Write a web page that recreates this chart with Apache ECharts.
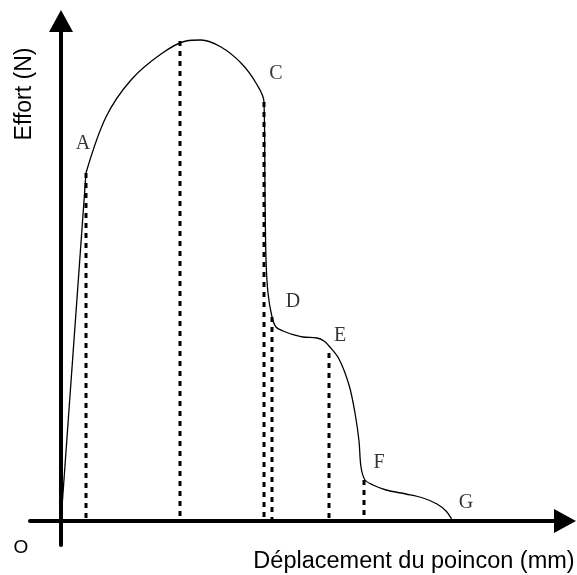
<!DOCTYPE html>
<html><head><meta charset="utf-8">
<script src="https://cdn.jsdelivr.net/npm/echarts@6/dist/echarts.min.js"></script>
<style>html,body{margin:0;padding:0;background:#fff}#c{width:577px;height:575px}</style>
</head><body><div id="c"></div>
<script>
// Elastic (straight) part: O -> A
const elasticX = [0, 25];
const elasticY = [0, 348];
// Rest of the force–displacement curve: A -> G
const curveX = [25, 45, 70, 100, 125, 140, 160, 180, 195, 203, 204, 205, 207, 211, 215, 222, 230, 242, 256, 263, 268, 278, 288, 294, 298, 300, 304, 312, 325, 345, 362, 376, 385, 390, 391];
const curveY = [348, 404, 441, 467, 480, 481, 474, 458, 438, 419, 330, 262, 228, 204, 194, 190, 187, 184, 183, 180, 175, 162, 136, 108, 80, 54, 41, 36, 31, 27, 23, 17, 10, 3, 0];
// Vertical dashed drop lines (x position and curve height)
const dropX = [25, 119, 203, 211, 268, 303];
const dropY = [348, 480, 419, 204, 168, 41];
// Point labels
const pointNames = ['A', 'B', 'C', 'D', 'E', 'F', 'G'];
const pointX = [22, 122, 215, 232, 279, 318, 405];
const pointY = [377, 506, 447, 219, 185, 58, 18];
const xTitle = 'Déplacement du poincon (mm)';
const yTitle = 'Effort (N)';
const originLabel = 'O';

const chart = echarts.init(document.getElementById('c'), null, {renderer: 'canvas'});
const axisCommon = {
  type: 'value',
  axisTick: {show: false},
  axisLabel: {show: false},
  splitLine: {show: false},
  axisLine: {onZero: true, symbol: ['none', 'triangle'], symbolSize: [24, 22], lineStyle: {color: '#000', width: 4}}
};
const series = [{
  type: 'line',
  data: elasticX.map((x, i) => [x, elasticY[i]]),
  showSymbol: false,
  lineStyle: {color: '#000', width: 1.3},
  z: 5,
  silent: true
}, {
  type: 'line',
  data: curveX.map((x, i) => [x, curveY[i]]),
  showSymbol: false,
  smooth: 0.35,
  lineStyle: {color: '#000', width: 1.3},
  z: 5,
  silent: true
}];
dropX.forEach((x, i) => {
  series.push({
    type: 'line',
    data: [[x, dropY[i]], [x, 0]],
    showSymbol: false,
    lineStyle: {color: '#000', width: 3, type: [5, 5]},
    z: 4,
    silent: true
  });
});
series.push({
  type: 'scatter',
  data: pointX.map((x, i) => ({value: [x, pointY[i]], name: pointNames[i]})),
  symbolSize: 0,
  label: {show: true, position: 'inside', formatter: p => p.name, color: '#000', fontFamily: 'Liberation Serif', fontSize: 20},
  silent: true
});
chart.setOption({
  animation: false,
  backgroundColor: '#fff',
  grid: {left: 30, right: 12, top: 21, bottom: 30},
  xAxis: Object.assign({min: -31, max: 504}, axisCommon),
  yAxis: Object.assign({min: -24, max: 500}, axisCommon),
  graphic: [
    {type: 'text', x: 21, y: 548, style: {text: originLabel, fontFamily: 'Liberation Sans', fontSize: 19, fill: '#000', align: 'center', verticalAlign: 'middle'}},
    {type: 'text', x: 25, y: 94, rotation: Math.PI / 2, style: {text: yTitle, fontFamily: 'Liberation Sans', fontSize: 23, fill: '#000', align: 'center', verticalAlign: 'middle'}},
    {type: 'text', x: 414, y: 562, style: {text: xTitle, fontFamily: 'Liberation Sans', fontSize: 23.5, fill: '#000', align: 'center', verticalAlign: 'middle'}}
  ],
  series: series
});
</script></body></html>
